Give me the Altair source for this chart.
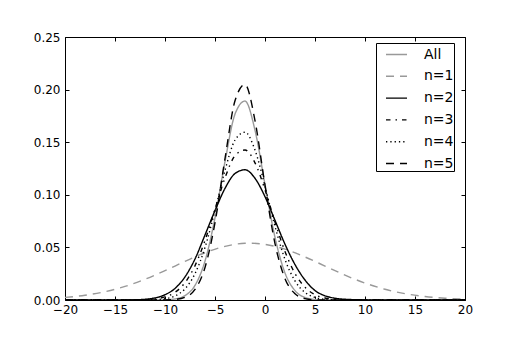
import altair as alt
import pandas as pd

SERIES = ["All", "n=1", "n=2", "n=3", "n=4", "n=5"]
COLORS = ["#999999", "#999999", "#000000", "#000000", "#000000", "#000000"]
DASHES = [[1, 0], [8, 6], [1, 0], [4.5, 5, 1.5, 5], [1.3, 3], [8, 6]]

# x grid for n=1 (wide curve)
X_WIDE = [-20, -18, -16, -14, -12, -10, -8, -6, -4, -2, -1.5, 0, 2, 4, 6, 8, 10, 12, 14, 16, 18, 20]
N1 = [0.0024, 0.0045, 0.0079, 0.0129, 0.0197, 0.0279, 0.0367, 0.0449, 0.0510, 0.0539, 0.0540,
      0.0529, 0.0483, 0.0409, 0.0323, 0.0236, 0.0161, 0.0102, 0.0060, 0.0033, 0.0017, 0.0008]

# x grid for the narrow curves
X_NARROW = [-20, -14, -13, -12, -11, -10, -9, -8, -7, -6, -5, -4, -3, -2, -1,
            0, 1, 2, 3, 4, 5, 6, 7, 8, 9, 10, 20]
ALL = [0, 0, 0, 0, 0.0000, 0.0002, 0.0010, 0.0042, 0.0139, 0.0370, 0.0781, 0.1316, 0.1767, 0.1891, 0.1614,
       0.1098, 0.0595, 0.0257, 0.0089, 0.0024, 0.0005, 0.0001, 0, 0, 0, 0, 0]
N2 = [0, 0.0001, 0.0002, 0.0007, 0.0020, 0.0050, 0.0110, 0.0220, 0.0390, 0.0618, 0.0850, 0.1061, 0.1202, 0.1238, 0.1157,
      0.0982, 0.0757, 0.0530, 0.0337, 0.0190, 0.0090, 0.0040, 0.0017, 0.0007, 0.0003, 0.0001, 0]
N3 = [0, 0, 0.0001, 0.0003, 0.0010, 0.0029, 0.0073, 0.0165, 0.0326, 0.0566, 0.0864, 0.1161, 0.1372, 0.1426, 0.1304,
      0.1048, 0.0741, 0.0461, 0.0252, 0.0121, 0.0051, 0.0019, 0.0006, 0.0002, 0, 0, 0]
N4 = [0, 0, 0, 0.0001, 0.0003, 0.0012, 0.0038, 0.0106, 0.0250, 0.0499, 0.0850, 0.1232, 0.1520, 0.1595, 0.1425,
      0.1083, 0.0701, 0.0386, 0.0181, 0.0072, 0.0024, 0.0007, 0.0002, 0, 0, 0, 0]
N5 = [0, 0, 0, 0, 0, 0.0001, 0.0005, 0.0025, 0.0100, 0.0309, 0.0735, 0.1345, 0.1894, 0.2049, 0.1705,
      0.1090, 0.0536, 0.0203, 0.0059, 0.0013, 0.0002, 0, 0, 0, 0, 0, 0]

X_TICKS = [-20, -15, -10, -5, 0, 5, 10, 15, 20]
Y_TICKS = [0.0, 0.05, 0.10, 0.15, 0.20, 0.25]

rows = []
for xv, yv in zip(X_NARROW, ALL):
    rows.append({"x": xv, "y": yv, "series": "All", "k": 0})
for xv, yv in zip(X_WIDE, N1):
    rows.append({"x": xv, "y": yv, "series": "n=1", "k": 1})
for k, (name, vals) in enumerate([("n=2", N2), ("n=3", N3), ("n=4", N4), ("n=5", N5)], start=2):
    for xv, yv in zip(X_NARROW, vals):
        rows.append({"x": xv, "y": yv, "series": name, "k": k})
df = pd.DataFrame(rows)

FONT = "DejaVu Sans"
xscale = alt.Scale(domain=[-20, 20], nice=False, zero=False)
yscale = alt.Scale(domain=[0, 0.25], nice=False, zero=False)

common_axis = dict(domain=False, grid=False, tickSize=4, offset=-4, tickColor="black",
                   tickWidth=1, labelColor="black", labelFont=FONT, labelFontSize=12,
                   labelFlush=False, labelOverlap=False, title=None)

base = alt.Chart(df)

lines = base.mark_line(strokeWidth=1.4, interpolate="monotone", clip=True).encode(
    x=alt.X("x:Q", scale=xscale,
            axis=alt.Axis(orient="bottom", values=X_TICKS, format="d", labelPadding=4, **common_axis)),
    y=alt.Y("y:Q", scale=yscale,
            axis=alt.Axis(orient="left", values=Y_TICKS, format=".2f", labelPadding=5, **common_axis)),
    color=alt.Color("series:N", scale=alt.Scale(domain=SERIES, range=COLORS), legend=alt.Legend(title=None)),
    strokeDash=alt.StrokeDash("series:N", scale=alt.Scale(domain=SERIES, range=DASHES), legend=alt.Legend(title=None)),
    detail="k:O",
)

frame = base.mark_line(opacity=0).encode(
    x=alt.X("x:Q", scale=xscale,
            axis=alt.Axis(orient="top", values=X_TICKS, labels=False, **common_axis)),
    y=alt.Y("y:Q", scale=yscale,
            axis=alt.Axis(orient="right", values=Y_TICKS, labels=False, **common_axis)),
)

chart = alt.layer(lines, frame).resolve_axis(
    x="independent", y="independent"
).properties(
    width=400, height=263,
    autosize=alt.AutoSizeParams(type="none"),
    padding={"left": 57, "top": 29, "right": 40, "bottom": 30},
    background="white",
).configure_view(
    stroke="black", strokeWidth=1
).configure_legend(
    orient="none", legendX=311, legendY=6, strokeColor="black", fillColor="white", padding=0,
    symbolType="stroke", symbolSize=441, symbolStrokeWidth=1.4, symbolOffset=9,
    labelFont=FONT, labelFontSize=14, labelColor="black", labelOffset=16,
    rowPadding=2.8, cornerRadius=0,
)

chart.save("out.html", embed_options={"renderer": "svg", "actions": False})
